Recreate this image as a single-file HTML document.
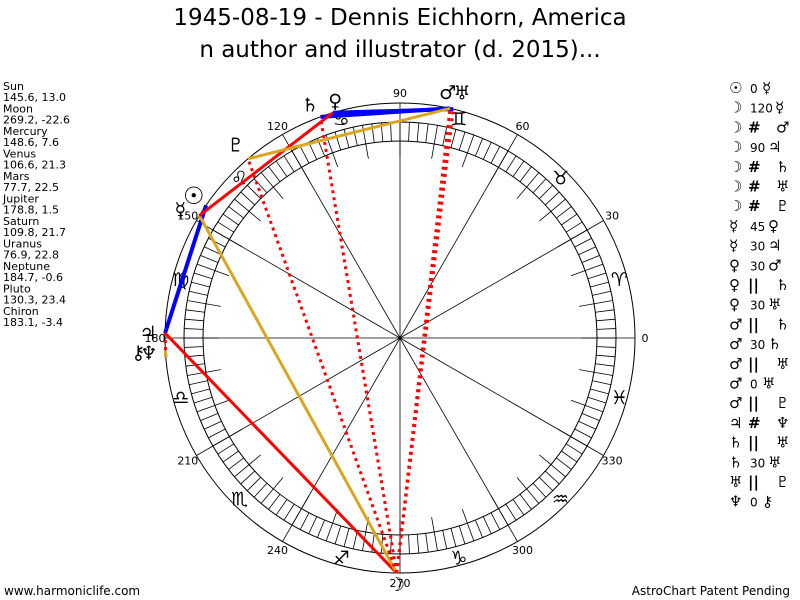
<!DOCTYPE html>
<html><head><meta charset="utf-8"><style>
html,body{margin:0;padding:0;background:#fff}
svg{display:block}
text{font-family:"DejaVu Sans","Liberation Sans",sans-serif}
</style></head><body>
<svg id="chart" width="800" height="600" viewBox="0 0 800 600" xmlns="http://www.w3.org/2000/svg">
<g>
<text x="400" y="25" font-size="23" text-anchor="middle" fill="#000">1945-08-19 - Dennis Eichhorn, America</text>
<text x="400" y="57" font-size="23" text-anchor="middle" fill="#000">n author and illustrator (d. 2015)...</text>
</g>
<g id="left" font-size="11" fill="#000"></g>
<g id="right" font-size="13" fill="#000"></g>
<g id="wheel"></g>
<g id="aspects"></g>
<g id="glyphs"></g>
<text x="4" y="595" font-size="12">www.harmoniclife.com</text>
<text x="790" y="595" font-size="12" text-anchor="end">AstroChart Patent Pending</text>
</svg>
<script>
const planetNames=["Sun","Moon","Mercury","Venus","Mars","Jupiter","Saturn","Uranus","Neptune","Pluto","Chiron"];
const planetLon=[145.6,269.2,148.6,106.6,77.7,178.8,109.8,76.9,184.7,130.3,183.1];
const planetDecl=[13.0,-22.6,7.6,21.3,22.5,1.5,21.7,22.8,-0.6,23.4,-3.4];
const planetGlyphs=["☉","☽","☿","♀","♂","♃","♄","♅","♆","♇","⚷"];
const signGlyphs=["♈","♉","♊","♋","♌","♍","♎","♏","♐","♑","♒","♓"];
const degreeLabels=["0","30","60","90","120","150","180","210","240","270","300","330"];
const aspectFrom=[0,6,3,5,2,2,9,1,1,1,1,5,8];
const aspectTo=[5,4,7,1,1,3,4,4,6,9,7,8,10];
const aspectStyle=["blue","blue","blue","red","gold","red","gold","dot","dot","dot","dot","dot","gold"];
const aspectRows=[["☉","0","☿"],["☽","120","☿"],["☽","#","♂"],["☽","90","♃"],["☽","#","♄"],["☽","#","♅"],["☽","#","♇"],["☿","45","♀"],["☿","30","♃"],["♀","30","♂"],["♀","||","♄"],["♀","30","♅"],["♂","||","♄"],["♂","30","♄"],["♂","||","♅"],["♂","0","♅"],["♂","||","♇"],["♃","#","♆"],["♄","||","♅"],["♄","30","♅"],["♅","||","♇"],["♆","0","⚷"]];

const NS="http://www.w3.org/2000/svg";
const cx=400,cy=338,R=235,B1=216,B2=197;
function pt(lon,r){const a=lon*Math.PI/180;return [cx+r*Math.cos(a),cy-r*Math.sin(a)];}
function mk(tag,attrs,parent){const e=document.createElementNS(NS,tag);for(const k in attrs)e.setAttribute(k,attrs[k]);parent.appendChild(e);return e;}

const left=document.getElementById('left');
planetNames.forEach((n,i)=>{
  const t1=mk('text',{x:3,y:90+i*22.5},left);t1.textContent=n;
  
  
  const t2=mk('text',{x:3,y:101.2+i*22.5},left);t2.textContent=planetLon[i].toFixed(1)+", "+planetDecl[i].toFixed(1);
  
  
});

const right=document.getElementById('right');
aspectRows.forEach((r,i)=>{
  const y=93+i*19.7;
  const g=mk('g',{},right);
  
  
  mk('text',{x:729,y:y,'font-size':15,'font-weight':'bold'},g).textContent=r[0];
  const sym=(r[1]==="#"||r[1]==="||");
  mk('text',{x:sym?748:750,y:y,'font-size':sym?15:12,'font-weight':sym?'bold':'normal'},g).textContent=r[1];
  const x3=sym?776:(r[1].length>=3?775:(r[1].length===2?768:762));
  mk('text',{x:x3,y:y,'font-size':15},g).textContent=r[2];
});

const w=document.getElementById('wheel');
const c1=mk('circle',{cx:cx,cy:cy,r:R,fill:'none',stroke:'#000','stroke-width':1},w);

const c2=mk('circle',{cx:cx,cy:cy,r:B1,fill:'none',stroke:'#000','stroke-width':1},w);

const c3=mk('circle',{cx:cx,cy:cy,r:B2,fill:'none',stroke:'#000','stroke-width':1},w);

for(let d=0;d<360;d+=2.5){
  const a=pt(d,B1),b=pt(d,(d%10===0)?182:B2);
  const l=mk('line',{x1:a[0],y1:a[1],x2:b[0],y2:b[1],stroke:'#000','stroke-width':0.8},w);
  
}
degreeLabels.forEach((lab,i)=>{
  const d=i*30;const a=pt(d,R),b=pt(d,0);
  const l=mk('line',{x1:a[0],y1:a[1],x2:b[0],y2:b[1],stroke:'#000','stroke-width':0.8},w);
  
  const p=pt(d,245);
  const t=mk('text',{x:p[0],y:p[1]+4,'font-size':11,'text-anchor':'middle',fill:'#000'},w);t.textContent=lab;
  
});
signGlyphs.forEach((s,i)=>{
  const p=pt(i*30+15,227);
  const t=mk('text',{x:p[0],y:p[1]+7,'font-size':19,'text-anchor':'middle',fill:'#000'},w);t.textContent=s;
  
});

const asp=document.getElementById('aspects');
aspectFrom.forEach((f,i)=>{
  const a=pt(planetLon[f],R),b=pt(planetLon[aspectTo[i]],R);
  const st=aspectStyle[i];
  const col=st==="blue"?"#0000ff":st==="gold"?"#daa520":"#ff0000";
  const attrs={x1:a[0],y1:a[1],x2:b[0],y2:b[1],stroke:col,'stroke-width':st==="blue"?4:3};
  if(st==="dot")attrs['stroke-dasharray']='3,4';
  const l=mk('line',attrs,asp);
  
});

const gl=document.getElementById('glyphs');
const glyphR=[250,246,248,248,252,252,248,252,252,254,256];
const glyphDx=[0,0,-8,6,-6,0,-6,5,0,0,-6];
const glyphDy=[0,0,0,0,0,0,0,0,-6,0,0];
planetGlyphs.forEach((g,i)=>{
  const p=pt(planetLon[i],glyphR[i]);
  const t=mk('text',{x:p[0]+glyphDx[i],y:p[1]+7+glyphDy[i],'font-size':(i===0?24:19),'text-anchor':'middle',fill:'#000'},gl);t.textContent=g;
  
});
</script>
</body></html>
